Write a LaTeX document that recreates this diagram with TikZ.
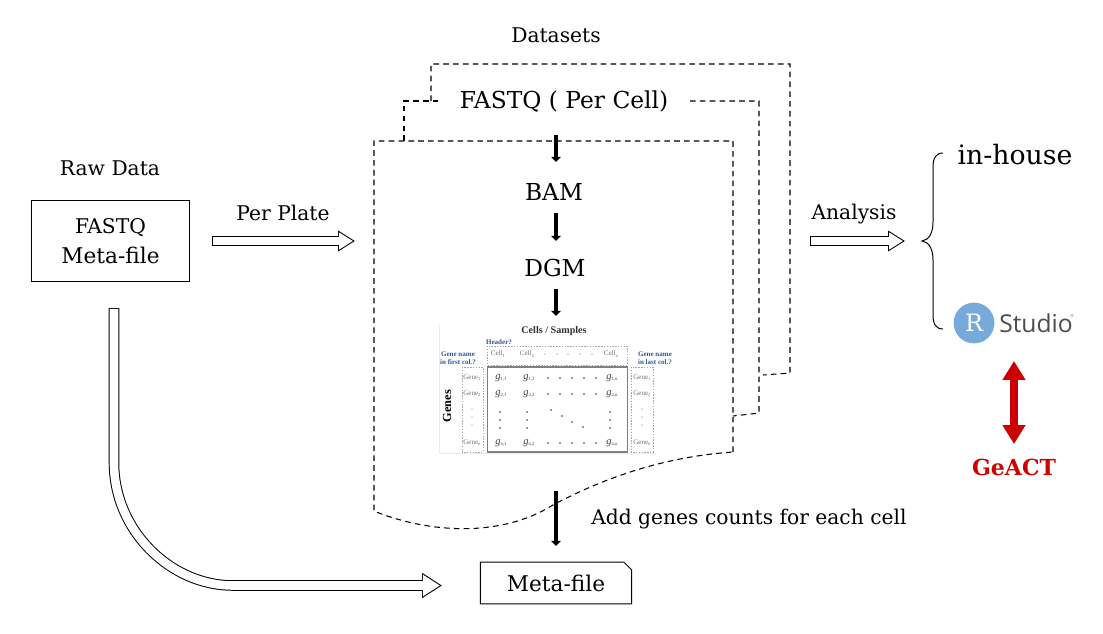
\documentclass[tikz,border=0pt]{standalone}
\usepackage{fontspec}
\usepackage{amsmath}
\usepackage[HTML]{xcolor}
\setmainfont{DejaVu Serif}
\newfontfamily\tablefont{Liberation Serif}
\newfontfamily\logofont{Open Sans}
\usetikzlibrary{positioning, arrows.meta, shapes.misc}
\definecolor{rstudioblue}{HTML}{75AADB}
\definecolor{geactred}{HTML}{CC0000}
\definecolor{headerblue}{HTML}{2F5597}
\newcommand{\lowidx}[1]{\raisebox{-0.8pt}{\fontsize{3.4}{4}\selectfont #1}}
\newcommand{\gcount}[1]{{\itshape\fontsize{7.5}{8}\selectfont g}\lowidx{#1}}
\tikzset{
  label text/.style={font=\fontsize{14.4}{16}\selectfont, inner sep=0pt},
  meta text/.style={font=\fontsize{15.4}{21}\selectfont, inner sep=0pt},
  big text/.style={font=\fontsize{16.6}{18}\selectfont, inner sep=0pt},
  page line/.style={dashed, line width=0.75pt, dash pattern=on 4pt off 3pt},
  solid arrow/.style={line width=3.2pt, -{Triangle[length=3.6pt,width=6.6pt]}},
  hollow arrow/.style={line width=7.5pt, -{Triangle[length=12pt,width=14pt]},
    postaction={draw=white, line width=6.1pt, -{Triangle[length=9.9pt,width=11.55pt]}, shorten >=1.4pt, shorten <=0.7pt}},
  big hollow arrow/.style={line width=7.5pt, -{Triangle[length=14.2pt,width=17pt]},
    postaction={draw=white, line width=6.1pt, -{Triangle[length=12.14pt,width=14.5pt]}, shorten >=1.4pt, shorten <=0.7pt}},
  table text/.style={font=\tablefont\fontsize{5}{6}\selectfont, inner sep=0pt, align=center},
  blue text/.style={table text, font=\tablefont\bfseries\fontsize{5}{6}\selectfont, text=headerblue},
  gray cell/.style={table text, text=black!55},
  count cell/.style={table text, text=black!75},
  gray box/.style={black!35, line width=0.7pt, dash pattern=on 1pt off 1pt}
}

\begin{document}
\begin{tikzpicture}[x=0.025cm, y=-0.025cm]
\useasboundingbox (0,0) rectangle (1103,633);

% Left part
\node[label text] (rawlabel) at (110,168) {Raw Data};
\node[draw, label text, align=center, minimum width=112.7pt, minimum height=58pt, line width=0.7pt, font=\fontsize{14.4}{21}\selectfont] (rawbox) at (110.5,241) {FASTQ\\{\fontsize{15.4}{21}\selectfont Meta-file}};
\node[label text] (perplate) at (283,213) {Per Plate};
\coordinate (plateend) at (355,241);
\coordinate (platestart) at (212,241);
\draw[hollow arrow] (platestart) -- (plateend);

% Stacked pages
\node[label text] (datasets) at (556,35) {Datasets};
\draw[page line] (431,101) -- (431,64) -- (790,64) -- (790,373) -- (763,375);
\draw[page line] (404,141) -- (404,101) -- (438,101);
\draw[page line] (690,101) -- (759,101) -- (759,413) -- (733,416);
\draw[page line] (733,452) -- (733,141) -- (374,141) -- (374,511)
  .. controls (420,530) and (495,541) .. (553,505) .. controls (600,480) and (660,457) .. (733,452);

% Steps
\node[big text] (fastq) at (564,101) {FASTQ ( Per Cell)};
\node[big text] (bam) at (554,192) {BAM};
\node[big text] (dgm) at (555,268) {DGM};
\coordinate (fastqout) at (556,135);
\coordinate (bamin) at (556,162);
\coordinate (bamout) at (556,213);
\coordinate (dgmin) at (556,241);
\coordinate (dgmout) at (556,289);
\coordinate (tablein) at (556,316);
\draw[solid arrow] (fastqout) -- (bamin);
\draw[solid arrow] (bamout) -- (dgmin);
\draw[solid arrow] (dgmout) -- (tablein);

% Count table
\draw[black!8, line width=0.5pt] (439,325) -- (439,453) -- (655,453);
\node[table text, font=\tablefont\bfseries\fontsize{7.2}{8}\selectfont, text=black!80] (cells) at (554,331) {Cells / Samples};
\node[blue text] (header) at (499,342) {Header?};
\node[blue text] (firstcol) at (458,358) {Gene name\\in first col.?};
\node[blue text] (lastcol) at (655,358) {Gene name\\in last col.?};
\node[table text, font=\tablefont\bfseries\fontsize{8.8}{9}\selectfont, rotate=90] (genes) at (447,406) {Genes};
\draw[gray box] (487,346) rectangle (627,365);
\draw[gray box] (462,367) rectangle (483,452);
\draw[gray box] (631,367) rectangle (653,452);
\draw[black!50, line width=1pt] (487.5,367) rectangle (627.5,452);
\node[gray cell] (cellone) at (498,354) {Cell\lowidx{1}};
\node[gray cell] (celltwo) at (527,354) {Cell\lowidx{2}};
\node[gray cell] (celln) at (611,354) {Cell\lowidx{n}};
\foreach \px in {545,557,568,580,592}
  \fill[black!60] (\px,354) circle (0.7);
\foreach \py/\pn in {378/1,394/2,443/n} {
  \node[gray cell] (leftgene\pn) at (472,\py) {Gene\lowidx{\pn}};
  \node[gray cell] (rightgene\pn) at (642,\py) {Gene\lowidx{\pn}};
  \node[count cell] (g\pn a) at (501,\py) {\gcount{\pn,1}};
  \node[count cell] (g\pn b) at (529,\py) {\gcount{\pn,2}};
  \node[count cell] (g\pn c) at (612,\py) {\gcount{\pn,n}};
  \foreach \px in {548,560,572,584,596}
    \fill[black!80] (\px,\py) circle (0.8);
}
\foreach \py in {412,420,428} {
  \fill[black!80] (500,\py) circle (0.8);
  \fill[black!80] (527,\py) circle (0.8);
  \fill[black!80] (610,\py) circle (0.8);
}
\foreach \py in {409,417,425} {
  \fill[black!50] (472,\py) circle (0.7);
  \fill[black!50] (642,\py) circle (0.7);
}
\foreach \px/\py in {551/410,562/416,572/422,583/427}
  \fill[black!80] (\px,\py) circle (0.8);

% Meta-file output
\node[draw, chamfered rectangle, chamfered rectangle corners=north east, chamfered rectangle xsep=2.8pt, chamfered rectangle ysep=2.8pt,
  meta text, minimum width=107.7pt, minimum height=29.8pt, line width=0.7pt] (metafile) at (556,583) {Meta-file};
\node[label text, anchor=west] (addgenes) at (591,519) {Add genes counts for each cell};
\coordinate (tableout) at (556,491);
\coordinate (metain) at (556,546);
\draw[solid arrow] (tableout) -- (metain);

% From raw data to meta-file
\coordinate (rawout) at (114,308);
\coordinate (metaarrow) at (442,585.5);
\draw[big hollow arrow] (rawout) -- (114,463) .. controls (114,530) and (170,585.5) .. (233,585.5) -- (metaarrow);

% Right part
\node[label text] (analysis) at (854,214) {Analysis};
\coordinate (analysisstart) at (810,241);
\coordinate (analysisend) at (905,241);
\draw[hollow arrow] (analysisstart) -- (analysisend);
\coordinate (bracetip) at (922,241);
\draw[line width=0.7pt] (943,153) .. controls (936,153) and (933,158) .. (933,167) -- (933,222)
  .. controls (933,233) and (929,240) .. (bracetip) .. controls (929,242) and (933,249) .. (933,260)
  -- (933,315) .. controls (933,324) and (936,329) .. (943,329);
\node[inner sep=0pt, font=\fontsize{19}{20}\selectfont] (inhouse) at (1015,155) {in-house};
\node[circle, fill=rstudioblue, minimum size=29pt, inner sep=0pt, text=white, font=\fontsize{17}{17}\selectfont] (rlogo) at (974,323) {R};
\node[inner sep=0pt, text=black!70, font=\logofont\fontsize{17.5}{20}\selectfont, anchor=west] (rstudio) at (999,323) {Studio};
\node[inner sep=0pt, text=black!50, font=\logofont\fontsize{3}{3}\selectfont] (rmark) at (1072,316) {\textregistered};
\node[inner sep=0pt, text=geactred, font=\bfseries\fontsize{15.7}{18}\selectfont] (geact) at (1014,467) {GeACT};
\coordinate (linktop) at (1014,361);
\coordinate (linkbottom) at (1014,444);
\draw[geactred, line width=5.6pt, {Triangle[length=13.5pt,width=15.6pt]}-{Triangle[length=13.5pt,width=15.6pt]}] (linktop) -- (linkbottom);
\end{tikzpicture}
\end{document}
